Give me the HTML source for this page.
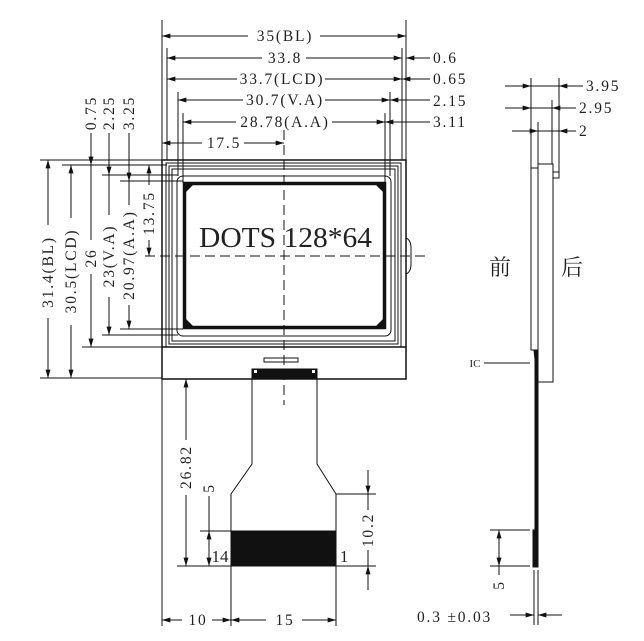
<!DOCTYPE html>
<html><head><meta charset="utf-8"><style>
html,body{margin:0;padding:0;background:#fff;}
svg{display:block}
text{font-family:"Liberation Serif","Noto Serif CJK SC",serif;fill:#222;}
.d text{letter-spacing:1.8px;}
</style></head><body>
<svg width="644" height="641" viewBox="0 0 644 641" xmlns="http://www.w3.org/2000/svg">
<defs>
<marker id="a" viewBox="0 0 10 6" refX="10" refY="3" markerWidth="10" markerHeight="5" markerUnits="userSpaceOnUse" orient="auto-start-reverse"><path d="M0,0L10,3L0,6z" fill="#111"/></marker>
</defs>
<g stroke="#111" stroke-width="1" fill="none">
<rect x="162" y="160" width="244" height="219" stroke-width="1.5"/>
<rect x="166" y="163" width="235" height="184"/>
<rect x="169" y="166" width="229" height="178"/>
<rect x="172" y="169" width="223" height="172"/>
<line x1="162" y1="347" x2="406" y2="347" stroke-width="1.5"/>
<path d="M406,238 q5,2 5,10 v16 q0,8 -5,10"/>
<rect x="177" y="176" width="214" height="160" rx="6"/>
<rect x="184.5" y="183.5" width="200" height="144" stroke-width="3.5"/>
<path d="M186,185h7l-7,7z M383,185h-7l7,7z M186,326h7l-7,-7z M383,326h-7l7,-7z" fill="#111" stroke="none"/>
<rect x="264" y="358" width="34" height="4"/>
<rect x="252" y="369" width="65" height="10" fill="#111"/>
<rect x="254" y="370" width="3" height="3" fill="#fff" stroke="none"/>
<rect x="312" y="370" width="3" height="3" fill="#fff" stroke="none"/>
<line x1="284" y1="130" x2="284" y2="405" stroke-dasharray="10,5"/>
<line x1="145" y1="256" x2="430" y2="256" stroke-dasharray="10,5"/>
<path d="M252,379 V464 L231,494 V566 H336 V494 L317,464 V379"/>
<rect x="231" y="531" width="105" height="35" fill="#111"/>
<line x1="162" y1="20" x2="162" y2="160"/>
<line x1="406" y1="20" x2="406" y2="160"/>
<line x1="167" y1="48" x2="167" y2="160"/>
<line x1="402" y1="48" x2="402" y2="160"/>
<line x1="178" y1="92" x2="178" y2="176"/>
<line x1="390" y1="92" x2="390" y2="176"/>
<line x1="183" y1="113" x2="183" y2="183"/>
<line x1="385" y1="113" x2="385" y2="183"/>
<line x1="162" y1="36" x2="248" y2="36" marker-start="url(#a)"/><line x1="320" y1="36" x2="406" y2="36" marker-end="url(#a)"/>
<line x1="167" y1="58" x2="262" y2="58" marker-start="url(#a)"/><line x1="306" y1="58" x2="402" y2="58" marker-end="url(#a)"/>
<line x1="167" y1="79" x2="237" y2="79" marker-start="url(#a)"/><line x1="325" y1="79" x2="402" y2="79" marker-end="url(#a)"/>
<line x1="178" y1="100" x2="243" y2="100" marker-start="url(#a)"/><line x1="325" y1="100" x2="390" y2="100" marker-end="url(#a)"/>
<line x1="183" y1="122" x2="236" y2="122" marker-start="url(#a)"/><line x1="332" y1="122" x2="385" y2="122" marker-end="url(#a)"/>
<line x1="162" y1="143" x2="202" y2="143" marker-start="url(#a)"/><line x1="244" y1="143" x2="284" y2="143" marker-end="url(#a)"/>
<line x1="430" y1="58" x2="406" y2="58" marker-end="url(#a)"/>
<line x1="430" y1="79" x2="402" y2="79" marker-end="url(#a)"/>
<line x1="430" y1="100" x2="390" y2="100" marker-end="url(#a)"/>
<line x1="430" y1="122" x2="385" y2="122" marker-end="url(#a)"/>
<line x1="40" y1="160" x2="162" y2="160"/>
<line x1="62" y1="165" x2="167" y2="165"/>
<line x1="102" y1="175" x2="178" y2="175"/>
<line x1="120" y1="181" x2="183" y2="181"/>
<line x1="40" y1="378" x2="162" y2="378"/>
<line x1="82" y1="347" x2="166" y2="347"/>
<line x1="102" y1="335" x2="178" y2="335"/>
<line x1="120" y1="329" x2="183" y2="329"/>
<line x1="48" y1="160" x2="48" y2="225" marker-start="url(#a)"/><line x1="48" y1="318" x2="48" y2="378" marker-end="url(#a)"/>
<line x1="71" y1="165" x2="71" y2="218" marker-start="url(#a)"/><line x1="71" y1="325" x2="71" y2="378" marker-end="url(#a)"/>
<line x1="91" y1="133" x2="91" y2="165" marker-end="url(#a)"/><line x1="91" y1="165" x2="91" y2="240" /><line x1="91" y1="274" x2="91" y2="347" marker-end="url(#a)"/>
<line x1="109" y1="133" x2="109" y2="175" marker-end="url(#a)"/><line x1="109" y1="175" x2="109" y2="215" /><line x1="109" y1="297" x2="109" y2="335" marker-end="url(#a)"/>
<line x1="129" y1="133" x2="129" y2="181" marker-end="url(#a)"/><line x1="129" y1="181" x2="129" y2="205" /><line x1="129" y1="305" x2="129" y2="329" marker-end="url(#a)"/>
<line x1="149" y1="165" x2="149" y2="185" marker-start="url(#a)"/><line x1="149" y1="240" x2="149" y2="256" marker-end="url(#a)"/>
<line x1="162" y1="379" x2="162" y2="626"/>
<line x1="231" y1="566" x2="231" y2="626"/>
<line x1="336" y1="566" x2="336" y2="626"/>
<line x1="177" y1="566" x2="231" y2="566"/>
<line x1="200" y1="531" x2="231" y2="531"/>
<line x1="186" y1="379" x2="186" y2="440" marker-start="url(#a)"/><line x1="186" y1="495" x2="186" y2="566" marker-end="url(#a)"/>
<line x1="209" y1="496" x2="209" y2="531"/><line x1="209" y1="531" x2="209" y2="566" marker-start="url(#a)" marker-end="url(#a)"/>
<line x1="336" y1="494" x2="376" y2="494"/><line x1="336" y1="566" x2="376" y2="566"/>
<line x1="368" y1="470" x2="368" y2="494" marker-end="url(#a)"/><line x1="368" y1="494" x2="368" y2="510"/>
<line x1="368" y1="550" x2="368" y2="566"/><line x1="368" y1="590" x2="368" y2="566" marker-end="url(#a)"/>
<line x1="162" y1="620" x2="182" y2="620" marker-start="url(#a)"/><line x1="212" y1="620" x2="231" y2="620" marker-end="url(#a)"/>
<line x1="231" y1="620" x2="266" y2="620" marker-start="url(#a)"/><line x1="302" y1="620" x2="336" y2="620" marker-end="url(#a)"/>
<rect x="531" y="168" width="7" height="182"/>
<rect x="538" y="164" width="15" height="218"/>
<rect x="553" y="172" width="6" height="6"/>
<path d="M534,350 L538,350 L538,567 L533,567 L533,530 L535,530 L535,360 Z" fill="#111"/>
<line x1="531" y1="78" x2="531" y2="168"/><line x1="559" y1="78" x2="559" y2="172"/>
<line x1="552" y1="100" x2="552" y2="164"/><line x1="538" y1="122" x2="538" y2="164"/>
<line x1="505" y1="86" x2="531" y2="86" marker-end="url(#a)"/><line x1="531" y1="86" x2="559" y2="86"/><line x1="583" y1="86" x2="559" y2="86" marker-end="url(#a)"/>
<line x1="505" y1="108" x2="531" y2="108" marker-end="url(#a)"/><line x1="531" y1="108" x2="552" y2="108"/><line x1="576" y1="108" x2="552" y2="108" marker-end="url(#a)"/>
<line x1="512" y1="131" x2="538" y2="131" marker-end="url(#a)"/><line x1="538" y1="131" x2="559" y2="131"/><line x1="576" y1="131" x2="559" y2="131" marker-end="url(#a)"/>
<line x1="484" y1="363" x2="530" y2="363"/>
<line x1="490" y1="530" x2="530" y2="530"/><line x1="490" y1="566" x2="530" y2="566"/>
<line x1="499" y1="530" x2="499" y2="566" marker-start="url(#a)" marker-end="url(#a)"/><line x1="499" y1="566" x2="499" y2="575"/>
<line x1="534" y1="570" x2="534" y2="625"/><line x1="538" y1="570" x2="538" y2="625"/>
<line x1="510" y1="615" x2="534" y2="615" marker-end="url(#a)"/><line x1="562" y1="615" x2="538" y2="615" marker-end="url(#a)"/>
</g>
<g class="d" font-size="15.5" text-anchor="middle">
<text x="285" y="41">35(BL)</text>
<text x="285" y="63">33.8</text>
<text x="282" y="84">33.7(LCD)</text>
<text x="285" y="105">30.7(V.A)</text>
<text x="285" y="127">28.78(A.A)</text>
<text x="224" y="148">17.5</text>
<g text-anchor="start">
<text x="433" y="63">0.6</text>
<text x="433" y="84">0.65</text>
<text x="433" y="106">2.15</text>
<text x="433" y="127">3.11</text>
<text x="586" y="91">3.95</text>
<text x="579" y="113">2.95</text>
<text x="579" y="136">2</text>
<text x="417" y="622">0.3  ±0.03</text>
</g>
<text transform="translate(53,272) rotate(-90)">31.4(BL)</text>
<text transform="translate(76,271) rotate(-90)">30.5(LCD)</text>
<text transform="translate(96,258) rotate(-90)">26</text>
<text transform="translate(114,256) rotate(-90)">23(V.A)</text>
<text transform="translate(134,255) rotate(-90)">20.97(A.A)</text>
<text transform="translate(154,213) rotate(-90)">13.75</text>
<text transform="translate(96,113) rotate(-90)">0.75</text>
<text transform="translate(114,113) rotate(-90)">2.25</text>
<text transform="translate(134,113) rotate(-90)">3.25</text>
<text transform="translate(191,467) rotate(-90)">26.82</text>
<text transform="translate(214,488) rotate(-90)">5</text>
<text transform="translate(373,530) rotate(-90)">10.2</text>
<text transform="translate(504,585) rotate(-90)">5</text>
<text x="198" y="625">10</text>
<text x="285" y="625">15</text>
<text x="220" y="562" font-size="17" style="letter-spacing:0">14</text>
<text x="345" y="562" font-size="17">1</text>
<text x="475" y="367" font-size="11" style="letter-spacing:0">IC</text>
<text x="500" y="275" font-size="22" style="letter-spacing:0">前</text>
<text x="572" y="275" font-size="22" style="letter-spacing:0">后</text>
</g>
<text x="199" y="247" font-size="28" textLength="173" lengthAdjust="spacingAndGlyphs">DOTS 128*64</text>
</svg>
</body></html>
